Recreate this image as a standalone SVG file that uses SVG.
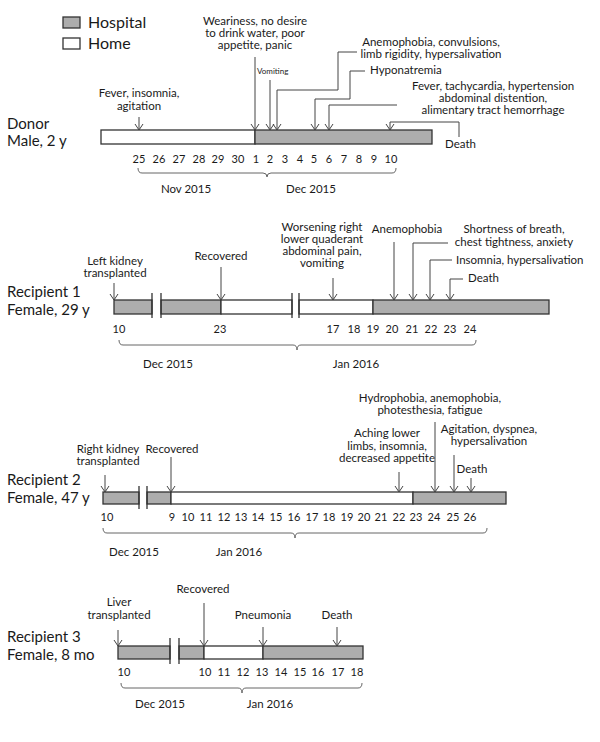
<svg xmlns="http://www.w3.org/2000/svg" width="600" height="742" viewBox="0 0 600 742">
<defs>
<style>
text{font-family:Lato,"Open Sans","Liberation Sans",sans-serif;fill:#1a1a1a}
.t{font-size:11.5px;text-anchor:middle}
.s{font-size:11.5px}
.v{font-size:8px}
.d{font-size:11px;text-anchor:middle}
.m{font-size:11.5px;text-anchor:middle}
.h{font-size:15px}
.lg{font-size:16px}
.hosp{fill:#adadad;stroke:#333;stroke-width:1.3}
.home{fill:#fff;stroke:#333;stroke-width:1.3}
.brk{stroke:#333;stroke-width:1.3}
.a{fill:none;stroke:#444;stroke-width:1;marker-end:url(#ah)}
.br{fill:none;stroke:#666;stroke-width:1}
</style>
<marker id="ah" markerWidth="10" markerHeight="10" refX="0" refY="0" orient="auto" markerUnits="userSpaceOnUse" style="overflow:visible">
<path d="M-6,-4 L0,0 L-6,4" fill="none" stroke="#444" stroke-width="1"/>
</marker>
</defs>
<rect width="600" height="742" fill="#fff"/>

<g id="legend">
<rect x="63" y="17" width="17" height="11" class="hosp" stroke-width="1.8"/>
<text x="88" y="28" class="lg">Hospital</text>
<rect x="63" y="38" width="17" height="11" class="home" stroke-width="1.8"/>
<text x="88" y="49" class="lg">Home</text>
</g>

<g id="donor">
<text x="7" y="129" class="h">Donor</text>
<text x="7" y="146" class="h">Male, 2 y</text>
<rect x="101" y="130" width="154" height="14" class="home"/>
<rect x="255" y="130" width="177" height="14" class="hosp"/>
<g class="d">
<text x="139" y="163">25</text><text x="159" y="163">26</text><text x="179" y="163">27</text><text x="199" y="163">28</text><text x="218" y="163">29</text><text x="238" y="163">30</text><text x="256" y="163">1</text><text x="270" y="163">2</text><text x="285" y="163">3</text><text x="300" y="163">4</text><text x="314" y="163">5</text><text x="329" y="163">6</text><text x="344" y="163">7</text><text x="359" y="163">8</text><text x="374" y="163">9</text><text x="391" y="163">10</text>
</g>
<path class="br" d="M138,168 Q138,173 142,173 H263 Q267,173 267,177 Q267,173 271,173 H392 Q396,173 396,168"/>
<text x="186" y="193" class="m">Nov 2015</text>
<text x="311" y="193" class="m">Dec 2015</text>
<text x="139" y="97" class="t">Fever, insomnia,</text>
<text x="139" y="110" class="t">agitation</text>
<text x="255" y="25" class="t">Weariness, no desire</text>
<text x="255" y="37" class="t">to drink water, poor</text>
<text x="255" y="49" class="t">appetite, panic</text>
<text x="257" y="74" class="v">Vomiting</text>
<text x="431" y="46" class="t">Anemophobia, convulsions,</text>
<text x="431" y="58" class="t">limb rigidity, hypersalivation</text>
<text x="370" y="74" class="s">Hyponatremia</text>
<text x="493" y="90" class="t">Fever, tachycardia, hypertension</text>
<text x="493" y="102" class="t">abdominal distention,</text>
<text x="493" y="114" class="t">alimentary tract hemorrhage</text>
<text x="445" y="148" class="s">Death</text>
</g>

<g id="recipient1">
<text x="7" y="297" class="h">Recipient 1</text>
<text x="7" y="315" class="h">Female, 29 y</text>
<rect x="114" y="300" width="38" height="14" class="hosp"/>
<rect x="161" y="300" width="60" height="14" class="hosp"/>
<rect x="221" y="300" width="71" height="14" class="home"/>
<rect x="299" y="300" width="74" height="14" class="home"/>
<rect x="373" y="300" width="176" height="14" class="hosp"/>
<path class="brk" d="M152,293 V318 M161,293 V318 M292,293 V318 M299,293 V318"/>
<g class="d">
<text x="119" y="333">10</text><text x="220" y="333">23</text><text x="333" y="333">17</text><text x="354" y="333">18</text><text x="373" y="333">19</text><text x="392" y="333">20</text><text x="412" y="333">21</text><text x="431" y="333">22</text><text x="450" y="333">23</text><text x="470" y="333">24</text>
</g>
<path class="br" d="M119,340 Q119,345 123,345 H293 Q297,345 297,350 Q297,345 301,345 H472 Q476,345 476,340"/>
<text x="168" y="368" class="m">Dec 2015</text>
<text x="356" y="368" class="m">Jan 2016</text>
<text x="115" y="265" class="t">Left kidney</text>
<text x="115" y="277" class="t">transplanted</text>
<text x="221" y="260" class="t">Recovered</text>
<text x="322" y="231" class="t">Worsening right</text>
<text x="322" y="243" class="t">lower quaderant</text>
<text x="322" y="255" class="t">abdominal pain,</text>
<text x="322" y="267" class="t">vomiting</text>
<text x="407" y="233" class="t">Anemophobia</text>
<text x="514" y="233" class="t">Shortness of breath,</text>
<text x="514" y="246" class="t">chest tightness, anxiety</text>
<text x="456" y="264" class="s">Insomnia, hypersalivation</text>
<text x="468" y="282" class="s">Death</text>
</g>

<g id="recipient2">
<text x="7" y="485" class="h">Recipient 2</text>
<text x="7" y="503" class="h">Female, 47 y</text>
<rect x="103" y="492" width="36" height="12" class="hosp"/>
<rect x="147" y="492" width="24" height="12" class="hosp"/>
<rect x="171" y="492" width="242" height="12" class="home"/>
<rect x="413" y="492" width="93" height="12" class="hosp"/>
<path class="brk" d="M139,486 V509 M147,486 V509"/>
<g class="d">
<text x="107" y="521">10</text><text x="172" y="521">9</text><text x="188" y="521">10</text><text x="206" y="521">11</text><text x="224" y="521">12</text><text x="241" y="521">13</text><text x="258" y="521">14</text><text x="276" y="521">15</text><text x="294" y="521">16</text><text x="312" y="521">17</text><text x="329" y="521">18</text><text x="347" y="521">19</text><text x="364" y="521">20</text><text x="381" y="521">21</text><text x="399" y="521">22</text><text x="416" y="521">23</text><text x="434" y="521">24</text><text x="453" y="521">25</text><text x="470" y="521">26</text>
</g>
<path class="br" d="M103,528 Q103,533 107,533 H291 Q295,533 295,538 Q295,533 299,533 H483 Q487,533 487,528"/>
<text x="134" y="556" class="m">Dec 2015</text>
<text x="239" y="556" class="m">Jan 2016</text>
<text x="108" y="453" class="t">Right kidney</text>
<text x="108" y="465" class="t">transplanted</text>
<text x="172" y="453" class="t">Recovered</text>
<text x="387" y="437" class="t">Aching lower</text>
<text x="387" y="450" class="t">limbs, insomnia,</text>
<text x="387" y="462" class="t">decreased appetite</text>
<text x="430" y="402" class="t">Hydrophobia, anemophobia,</text>
<text x="430" y="414" class="t">photesthesia, fatigue</text>
<text x="489" y="433" class="t">Agitation, dyspnea,</text>
<text x="489" y="445" class="t">hypersalivation</text>
<text x="472" y="473" class="t">Death</text>
</g>

<g id="recipient3">
<text x="7" y="642" class="h">Recipient 3</text>
<text x="7" y="660" class="h">Female, 8 mo</text>
<rect x="118" y="646" width="52" height="13" class="hosp"/>
<rect x="179" y="646" width="25" height="13" class="hosp"/>
<rect x="204" y="646" width="59" height="13" class="home"/>
<rect x="263" y="646" width="100" height="13" class="hosp"/>
<path class="brk" d="M170,638 V664 M179,638 V664"/>
<g class="d">
<text x="124" y="676">10</text><text x="205" y="676">10</text><text x="224" y="676">11</text><text x="243" y="676">12</text><text x="262" y="676">13</text><text x="281" y="676">14</text><text x="300" y="676">15</text><text x="318" y="676">16</text><text x="338" y="676">17</text><text x="357" y="676">18</text>
</g>
<path class="br" d="M121,683 Q121,688 125,688 H238 Q242,688 242,693 Q242,688 246,688 H358 Q362,688 362,683"/>
<text x="160" y="708" class="m">Dec 2015</text>
<text x="270" y="708" class="m">Jan 2016</text>
<text x="119" y="606" class="t">Liver</text>
<text x="119" y="619" class="t">transplanted</text>
<text x="203" y="593" class="t">Recovered</text>
<text x="263" y="619" class="t">Pneumonia</text>
<text x="337" y="619" class="t">Death</text>
</g>

<g id="connectors">
<path class="a" d="M139,117 V130"/>
<path class="a" d="M255,57 V130"/>
<path class="a" d="M270,80 V130"/>
<path class="a" d="M357,52 H338 V90 H277 V130"/>
<path class="a" d="M365,71 H350 V99 H315 V130"/>
<path class="a" d="M397,105 H329 V130"/>
<path class="a" d="M459,137 V122 H390 V130"/>

<path class="a" d="M114,283 V300"/>
<path class="a" d="M221,267 V300"/>
<path class="a" d="M333,278 V300"/>
<path class="a" d="M394,242 V300"/>
<path class="a" d="M448,243 H413 V300"/>
<path class="a" d="M452,260 H430 V300"/>
<path class="a" d="M463,279 H450 V300"/>

<path class="a" d="M105,475 V492"/>
<path class="a" d="M171,457 V492"/>
<path class="a" d="M399,472 V492"/>
<path class="a" d="M435,422 V492"/>
<path class="a" d="M454,455 V492"/>
<path class="a" d="M471,478 V492"/>

<path class="a" d="M118,630 V646"/>
<path class="a" d="M204,603 V646"/>
<path class="a" d="M263,627 V646"/>
<path class="a" d="M337,627 V646"/>
</g>
</svg>
